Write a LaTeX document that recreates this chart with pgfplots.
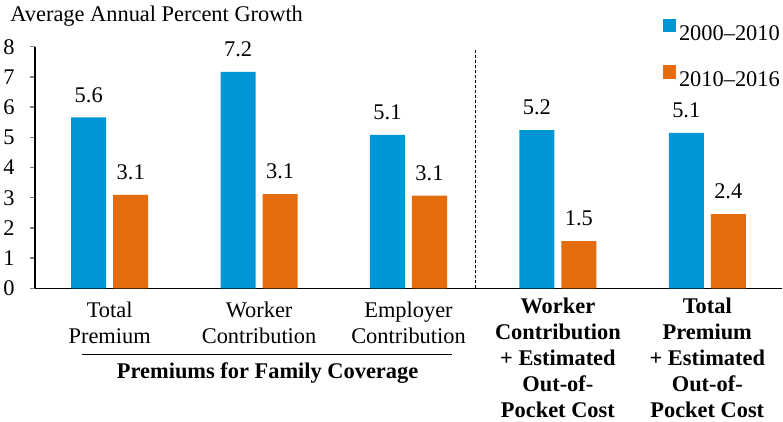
\documentclass[border=0pt]{standalone}
\usepackage{fontspec}
\setmainfont{Liberation Serif}
\usepackage{pgfplots}
\pgfplotsset{compat=1.18}
\definecolor{cblue}{RGB}{0,150,214}
\definecolor{corange}{RGB}{228,108,10}
\newcommand{\fs}{\fontsize{11.2}{13}\selectfont}
\begin{document}
\begin{tikzpicture}
\begin{axis}[
  scale only axis, width=373.5pt, height=120.8pt,
  ymin=0, ymax=8, xmin=-0.5, xmax=4.5,
  ybar=3.5pt, bar width=17.5pt,
  axis lines=left, axis line style={-, line width=0.7pt},
  xtick={0,1,2,3,4}, xtick style={draw=none},
  xticklabels={{\rule{0pt}{9.9pt}Total\\Premium},
               {\rule{0pt}{9.9pt}Worker\\Contribution},
               {\rule{0pt}{9.9pt}Employer\\Contribution},
               {\textbf{Worker}\\\textbf{Contribution}\\\textbf{+ Estimated}\\\textbf{Out-of-}\\\textbf{Pocket Cost}},
               {\textbf{Total}\\\textbf{Premium}\\\textbf{+ Estimated}\\\textbf{Out-of-}\\\textbf{Pocket Cost}}},
  ytick={0,1,2,3,4,5,6,7,8}, tick align=outside, major tick length=2.5pt,
  ytick style={line width=0.7pt}, ytick pos=left,
  ticklabel style={font=\fs},
  /pgf/number format/assume math mode=true,
  yticklabel style={inner sep=0pt, xshift=-7.5pt},
  xticklabel style={align=center, anchor=north, inner sep=0pt, yshift=-2pt},
  nodes near coords, point meta=explicit symbolic,
  every node near coord/.append style={font=\fs, inner sep=0pt, anchor=south, yshift=7.3pt, black},
  clip=false,
  legend image code/.code={\path[draw=none, fill=none] (0pt,0pt) rectangle (6.7pt,13.7pt); \fill[#1] (0pt,0pt) rectangle (6.7pt,6.7pt);},
  legend cell align=left,
  legend style={at={(axis cs:3.701,9.38)}, anchor=north west, draw=none, fill=none,
    inner sep=0pt, outer sep=0pt, font=\fs, row sep=5.6pt,
    nodes={inner sep=0pt, text height=7.6pt, text depth=0pt},
    /tikz/every odd column/.append style={column sep=1.5pt}},
]
\addplot[fill=cblue, draw=none] coordinates {(0,5.66)[5.6] (1,7.17)[7.2] (2,5.08)[5.1] (3,5.24)[5.2] (4,5.15)[5.1]};
\addplot[fill=corange, draw=none] coordinates {(0,3.09)[3.1] (1,3.12)[3.1] (2,3.07)[3.1] (3,1.56)[1.5] (4,2.46)[2.4]};
\legend{2000--2010, 2010--2016}
\draw[line width=0.5pt, dash pattern=on 1.5pt off 1pt] (axis cs:2.446,0) -- (axis cs:2.446,7.9);
\draw[line width=0.5pt] ([yshift=-32.9pt]axis cs:-0.185,0) -- ([yshift=-32.9pt]axis cs:2.29,0);
\node[font=\fs\bfseries, anchor=base, inner sep=0pt] at ([yshift=-44.9pt]axis cs:1.057,0) {Premiums for Family Coverage};
\node[font=\fs, anchor=base west, inner sep=0pt] at ([xshift=-12.5pt, yshift=12.5pt]rel axis cs:0,1) {Average Annual Percent Growth};
\end{axis}
\pgfresetboundingbox
\path[use as bounding box] ([xshift=-17.5pt, yshift=-66.85pt]current axis.south west) rectangle ++(391.5pt,211pt);
\end{tikzpicture}
\end{document}
